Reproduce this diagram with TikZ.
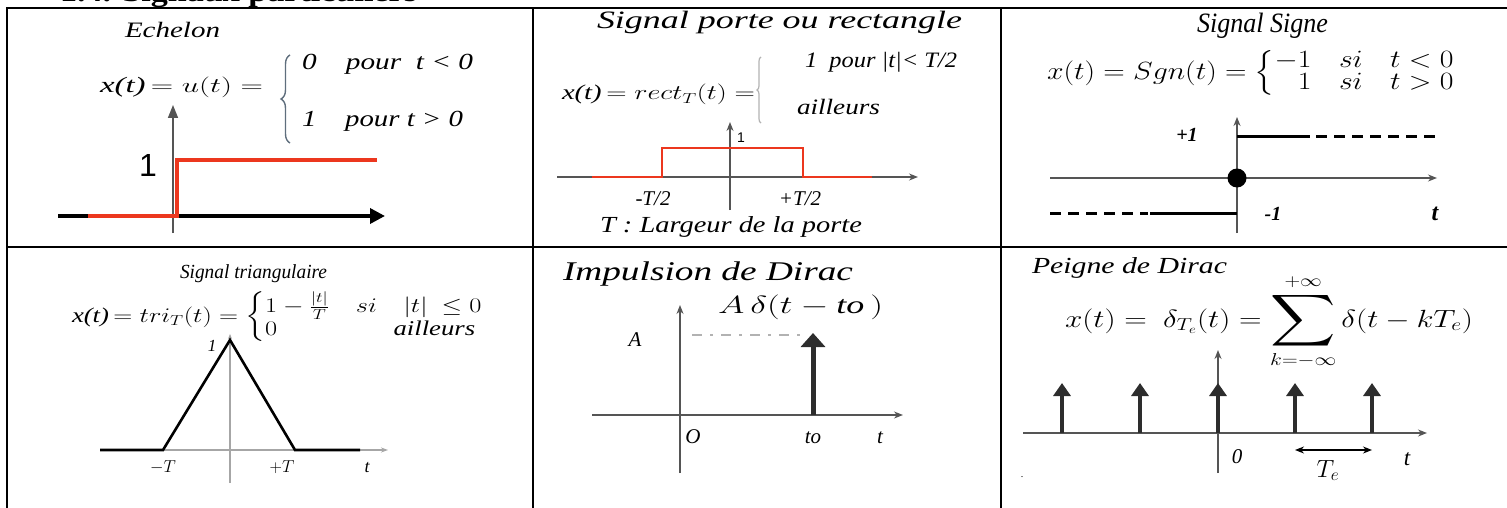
\documentclass[tikz,border=0pt]{standalone}
\usepackage{fontspec}
\setmainfont{Liberation Serif}
\newfontfamily\arialf{Liberation Sans}
\usepackage{amsmath}
\usetikzlibrary{arrows.meta,decorations.pathreplacing}
\newcommand{\wfit}[2]{\resizebox{#1pt}{\height}{#2}}
\newcommand{\fsz}[1]{\fontsize{#1}{#1}\selectfont}
\definecolor{sigred}{RGB}{236,55,30}
\definecolor{axgray}{RGB}{85,85,85}
\definecolor{bracec}{RGB}{95,110,125}
\definecolor{implc}{RGB}{45,45,45}
\begin{document}
\begin{tikzpicture}[x=1pt,y=-1pt,
  tbl/.style={line width=2.2pt,black,line cap=rect},
  txt/.style={inner sep=0pt,outer sep=0pt},
  ax/.style={axgray,line width=1.3pt,-{Stealth[length=9pt,width=7pt]}},
  redsig/.style={sigred,line width=4.5pt},
  blk/.style={black,line width=3pt},
  dsh/.style={black,line width=3pt,dash pattern=on 11pt off 7pt},
  imp/.style={implc,line width=4pt,-{Triangle[length=13pt,width=17pt]}}
]
\useasboundingbox (0,0) rectangle (1507,508);
% ---------- section title (cut by the top edge) ----------
\node[txt,anchor=base west] (sect) at (60,1.5) {\fsz{28}\wfit{357}{\bfseries 1.4. Signaux particuliers}};
% ---------- table ----------
\draw[tbl] (7,8) -- (1512,8);
\draw[tbl] (7,247) -- (1512,247);
\draw[tbl] (7,8) -- (7,512);
\draw[tbl] (533,8) -- (533,512);
\draw[tbl] (1001,8) -- (1001,512);

% ---------- cell 1 : Echelon ----------
\node[txt,anchor=base west] (ech) at (125,37.7) {\fsz{22}\wfit{95}{\itshape Echelon}};
\node[txt,anchor=base west] (eq1) at (100,93) {\fsz{22}\wfit{163}{{\itshape x(t)}$\,= u(t) =$}};
\draw[bracec,line width=1.4pt,decorate,decoration={brace,amplitude=9pt}] (290,143) -- (290,55);
\node[txt,anchor=base west] (r1a) at (302,70) {\fsz{23}\wfit{171}{\itshape 0\quad pour\ \ t < 0}};
\node[txt,anchor=base west] (r1b) at (302,127) {\fsz{23}\wfit{161}{\itshape 1\quad pour t > 0}};
\draw[axgray,line width=1.6pt,-{Triangle[length=13pt,width=10pt]}] (173,233) -- (173,105);
\draw[black,line width=3.5pt,-{Triangle[length=15pt,width=15pt]}] (58,216) -- (385,216);
\draw[redsig] (88,216) -- (177,216) -- (177,160) -- (377,160);
\node[txt] (one1) at (148,165) {\fsz{32}\arialf 1};

% ---------- cell 2 : porte ----------
\node[txt,anchor=base west] (ttl2) at (597,28.3) {\fsz{25}\wfit{365}{\itshape Signal porte ou rectangle}};
\node[txt,anchor=base west] (eq2) at (562,100) {\fsz{21}\wfit{193}{{\itshape x(t)}$\,= rect_T(t) =$}};
\draw[gray!60,line width=1.2pt,decorate,decoration={brace,amplitude=4pt}] (761,123) -- (761,57);
\node[txt,anchor=base west] (r2a) at (805,68) {\fsz{22}\wfit{152}{\itshape 1\ \ pour\ |t|< T/2}};
\node[txt,anchor=base west] (r2b) at (797,115) {\fsz{22}\wfit{83}{\itshape ailleurs}};
\draw[ax] (557,177) -- (918,177);
\draw[ax] (730,210) -- (730,122);
\draw[sigred,line width=2.6pt] (592,177) -- (662,177) -- (662,148) -- (803,148) -- (803,177) -- (872,177);
\node[txt] (one2) at (741,138) {\fsz{14}\arialf 1};
\node[txt,anchor=base] (mT2) at (653,205) {\fsz{21}\itshape -T/2};
\node[txt,anchor=base] (pT2) at (800,205) {\fsz{21}\itshape +T/2};
\node[txt,anchor=base west] (larg) at (600,232) {\fsz{23}\wfit{262}{\itshape T : Largeur de la porte}};

% ---------- cell 3 : signe ----------
\node[txt,anchor=base west] (ttl3) at (1197,33) {\fsz{28}\wfit{131}{\itshape Signal Signe}};
\node[txt,anchor=west] (eq3) at (1047,73) {\fsz{23}\renewcommand\arraystretch{0.85}\wfit{408}{$x(t) = Sgn(t) = \left\{\begin{array}{@{}r@{\quad}l@{\quad}l@{}} -1 & si & t<0\\ 1 & si & t>0\end{array}\right.$}};
\draw[ax] (1050,178) -- (1437,178);
\draw[ax] (1237,233) -- (1237,117);
\fill[black] (1237,178) circle (9.5);
\draw[blk] (1237,137) -- (1310,137);
\draw[dsh] (1316,137) -- (1438,137);
\draw[dsh] (1050,213) -- (1148,213);
\draw[blk] (1150,213) -- (1237,213);
\node[txt,anchor=base] (p1) at (1187,142) {\fsz{20}\bfseries\itshape +1};
\node[txt,anchor=base] (m1) at (1273,220) {\fsz{20}\bfseries\itshape -1};
\node[txt,anchor=base] (t3) at (1435,220) {\fsz{24}\bfseries\itshape t};

% ---------- cell 4 : triangulaire ----------
\node[txt,anchor=base west] (ttl4) at (180,278) {\fsz{20}\wfit{147}{\itshape Signal triangulaire}};
\node[txt,anchor=west] (eq4) at (72,317) {\fsz{21}\renewcommand\arraystretch{1.1}\wfit{411}{{\itshape x(t)}$\,= tri_T(t) = \left\{\begin{array}{@{}l@{\quad}l@{\quad}l@{}} 1-\frac{|t|}{T} & si & |t|\ \le 0\\ 0 & \multicolumn{2}{r}{\mathit{ailleurs}}\end{array}\right.$}};
\draw[gray!70,line width=1.1pt,-{Stealth[length=7pt,width=5pt]}] (100,450) -- (388,450);
\draw[gray!70,line width=1.1pt,-{Stealth[length=5pt,width=4pt]}] (230,483) -- (230,334);
\draw[black,line width=2.6pt,line join=miter] (100,450) -- (163,450) -- (230,340) -- (295,450) -- (360,450);
\node[txt] (one4) at (212,346) {\fsz{17}\itshape 1};
\node[txt,anchor=base] (mT4) at (163,472) {\fsz{18}$-T$};
\node[txt,anchor=base] (pT4) at (282,472) {\fsz{18}$+T$};
\node[txt,anchor=base] (t4) at (367,472) {\fsz{18}\itshape t};

% ---------- cell 5 : Dirac ----------
\node[txt,anchor=base west] (ttl5) at (563,280) {\fsz{27}\wfit{290}{\itshape Impulsion de Dirac}};
\node[txt,anchor=base west] (ad) at (718,313) {\fsz{25}\wfit{165}{$A\,\delta(t-\textit{to}\,)$}};
\node[txt] (A5) at (635,340) {\fsz{21}\itshape A};
\draw[gray!60,line width=1.5pt,dash pattern=on 10pt off 8pt on 3pt off 8pt] (692,335) -- (800,335);
\draw[ax] (592,415) -- (903,415);
\draw[ax] (680,473) -- (680,305);
\draw[implc,line width=5pt,-{Triangle[length=14pt,width=24pt]}] (813,415) -- (813,333);
\node[txt,anchor=base] (O5) at (693,443) {\fsz{21}\itshape O};
\node[txt,anchor=base] (to5) at (813,443) {\fsz{21}\itshape to};
\node[txt,anchor=base] (t5) at (880,443) {\fsz{21}\itshape t};

% ---------- cell 6 : peigne ----------
\node[txt,anchor=base west] (ttl6) at (1032,273) {\fsz{23}\wfit{195}{\itshape Peigne de Dirac}};
\node[txt,anchor=base west] (eq6) at (1065,327) {\fsz{24}\wfit{408}{$x(t) =\ \delta_{T_e}(t) = \mathop{\vcenter{\hbox{\scalebox{1.45}{$\displaystyle\sum$}}}}\limits_{k=-\infty}^{+\infty}\delta(t-kT_e)$}};
\draw[ax] (1023,433) -- (1427,433);
\draw[ax] (1218,473) -- (1218,350);
\foreach \xx in {1062,1140,1218,1295,1372} \draw[imp] (\xx,433) -- (\xx,383);
\draw[black,line width=1.3pt,{Stealth[length=9pt,width=7pt]}-{Stealth[length=9pt,width=7pt]}] (1295,450) -- (1372,450);
\node[txt,anchor=base] (z6) at (1237,463) {\fsz{21}\itshape 0};
\node[txt,anchor=base] (Te) at (1328,477) {\fsz{24}$T_e$};
\node[txt,anchor=base] (t6) at (1407,465) {\fsz{23}\itshape t};
\node[txt] (dot6) at (1022,477) {\fsz{10}.};
\end{tikzpicture}
\end{document}
